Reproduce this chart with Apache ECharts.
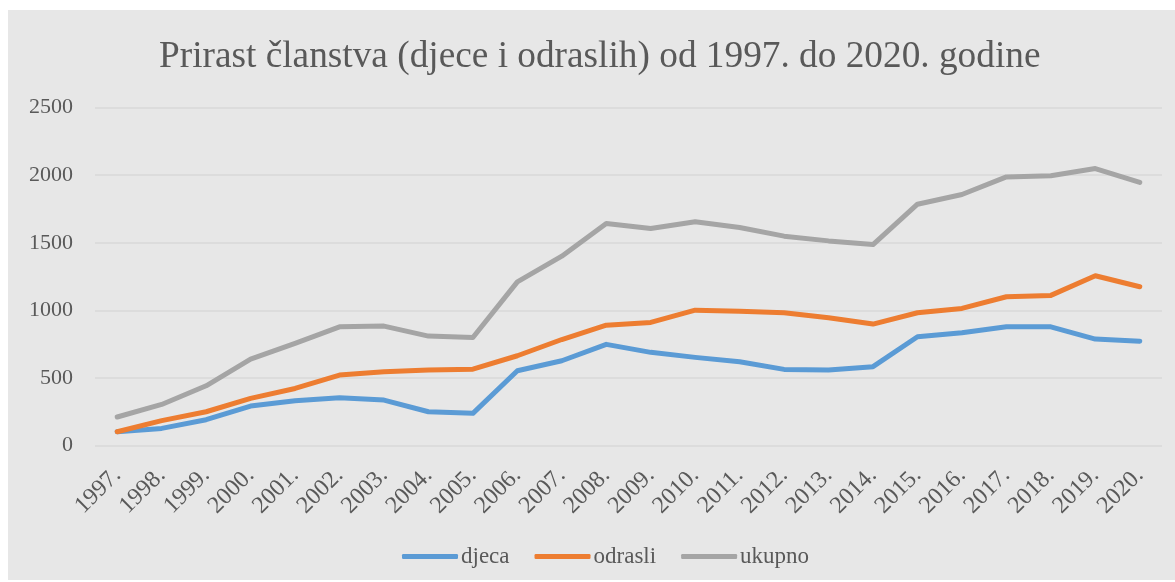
<!DOCTYPE html>
<html>
<head>
<meta charset="UTF-8">
<title>Prirast članstva</title>
<script src="https://cdn.jsdelivr.net/npm/echarts@6/dist/echarts.min.js"></script>
<style>
    body {
        margin: 0;
        padding: 0;
        background: #ffffff;
    }
    #main {
        position: absolute;
        left: 8px;
        top: 10px;
        width: 1167px;
        height: 570px;
        background: #e7e7e7;
    }
</style>
</head>
<body>
<div id="main"></div>
<script type="text/javascript">
    const years = ['1997.', '1998.', '1999.', '2000.', '2001.', '2002.', '2003.', '2004.', '2005.', '2006.', '2007.', '2008.',
        '2009.', '2010.', '2011.', '2012.', '2013.', '2014.', '2015.', '2016.', '2017.', '2018.', '2019.', '2020.'];
    const djeca = [103, 128, 192, 293, 332, 354, 337, 251, 239, 554, 628, 749,
        690, 653, 621, 564, 559, 584, 805, 835, 879, 879, 788, 773];
    const odrasli = [103, 185, 251, 350, 423, 522, 547, 559, 566, 665, 785, 891,
        911, 1002, 993, 983, 946, 899, 983, 1015, 1101, 1111, 1256, 1175];
    const ukupno = [212, 305, 443, 640, 756, 879, 884, 810, 800, 1211, 1401, 1642,
        1605, 1655, 1613, 1549, 1514, 1487, 1785, 1857, 1987, 1995, 2049, 1946];

    const font = '"Liberation Serif", "Times New Roman", serif';
    const textColor = '#595959';

    const chart = echarts.init(document.getElementById('main'), null, {renderer: 'canvas'});

    function lineSeries(name, data, color) {
        return {
            name: name,
            type: 'line',
            data: data,
            symbol: 'none',
            lineStyle: {color: color, width: 5, cap: 'round', join: 'round'},
            itemStyle: {color: color}
        };
    }

    chart.setOption({
        backgroundColor: 'transparent',
        animation: false,
        title: {
            text: 'Prirast članstva (djece i odraslih) od 1997. do 2020. godine',
            left: 146,
            top: 24,
            textStyle: {fontFamily: font, fontSize: 37.3, fontWeight: 'normal', color: textColor}
        },
        legend: {
            left: 389,
            top: 530,
            icon: 'roundRect',
            itemWidth: 56,
            itemHeight: 5,
            itemGap: 25,
            textStyle: {fontFamily: font, fontSize: 23, color: textColor, padding: [0, 0, 0, -2]},
            data: ['djeca', 'odrasli', 'ukupno']
        },
        grid: {
            left: 87,
            right: 13,
            top: 97.5,
            bottom: 134.3,
            containLabel: false
        },
        xAxis: {
            type: 'category',
            data: years,
            boundaryGap: true,
            axisLine: {show: false},
            axisTick: {show: false},
            axisLabel: {
                rotate: 45,
                interval: 0,
                margin: 26,
                fontFamily: font,
                fontSize: 24,
                color: textColor
            }
        },
        yAxis: {
            type: 'value',
            min: 0,
            max: 2500,
            interval: 500,
            axisLine: {show: false},
            axisTick: {show: false},
            axisLabel: {
                margin: 22,
                fontFamily: font,
                fontSize: 22,
                color: textColor,
                formatter: function (v) { return String(v); }
            },
            splitLine: {lineStyle: {color: '#d9d9d9', width: 1.5}}
        },
        series: [
            lineSeries('djeca', djeca, '#5b9bd5'),
            lineSeries('odrasli', odrasli, '#ed7d31'),
            lineSeries('ukupno', ukupno, '#a5a5a5')
        ]
    });
</script>
</body>
</html>
